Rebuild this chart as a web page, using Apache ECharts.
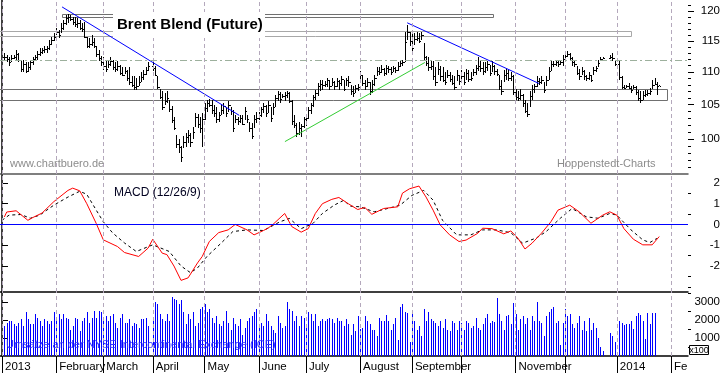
<!DOCTYPE html>
<html><head><meta charset="utf-8">
<script src="https://cdn.jsdelivr.net/npm/echarts@6/dist/echarts.min.js"></script>
<style>html,body{margin:0;padding:0;background:#fff}#c{width:723px;height:373px}</style>
</head><body><div id="c"></div>
<script>
// ---- x axis: weekday index (0 = 1 Jan 2013) ----
const monthStarts = [0,23,43,64,86,109,129,152,174,195,218,239,261,284];
const monthLabels = ['2013','February','March','April','May','June','July','August','September','','November','','2014','Fe'];
// ---- price ticks ----
const priceTicks = [100,105,110,115,120];
const priceMinorTicks = [96,97,98,99,101,102,103,104,106,107,108,109,111,112,113,114,116,117,118,119,121];
const macdTicks = [-2,-1,0,1,2];
const macdMinorTicks = [-3,-2.5,-1.5,-0.5,0.5,1.5];
const volTicks = [1000,2000,3000];
const volMinorTicks = [500,1500,2500,3500];

// ---- daily OHLC (index = weekday, null = no trading) ----
const highs = [null,
113.0,112.7,112.4,112.7,112.7,113.5,113.0,111.9,111.9,111.6,
111.6,111.9,112.4,112.7,113.3,113.9,113.9,114.1,114.1,115.1,
115.6,116.3,117.1,116.8,118.0,118.5,119.3,119.5,119.3,119.0,
119.0,118.8,118.5,118.0,118.1,115.6,115.5,116.0,115.5,114.1,
113.5,112.5,112.3,111.8,111.9,112.4,111.9,111.6,111.7,111.1,
110.8,110.8,110.3,110.8,109.4,109.3,109.0,109.3,110.0,110.3,
110.8,111.6,null,112.0,111.0,109.4,107.3,107.1,106.8,107.0,
105.7,104.8,103.2,100.6,99.9,99.0,100.4,100.9,101.2,100.8,
101.7,103.8,103.6,103.2,103.7,
105.3,105.7,105.9,105.7,105.0,104.7,103.9,105.0,105.3,104.7,
105.5,104.7,104.2,103.5,103.2,103.4,103.5,104.7,103.5,102.4,
102.3,103.4,103.9,
103.9,104.7,105.3,105.0,105.5,104.7,105.3,106.5,107.1,106.9,
106.6,106.9,107.1,106.9,105.7,103.4,102.3,102.4,102.2,103.2,
103.5,104.7,105.3,106.5,107.2,108.3,108.8,108.8,108.6,109.1,
108.8,109.1,108.6,109.1,108.8,109.4,108.8,109.1,109.4,108.0,
107.8,108.0,108.2,
110.2,109.6,108.8,109.1,108.4,108.8,109.6,110.8,110.8,111.1,
110.6,111.1,111.0,110.8,111.0,110.8,111.6,111.8,111.9,116.5,
117.6,116.5,
116.3,116.3,116.5,116.3,116.5,114.7,112.5,112.3,111.9,111.8,
110.8,111.6,111.0,110.8,110.0,110.3,110.0,109.6,109.4,110.3,
109.6,
110.3,110.0,110.5,110.3,110.0,110.5,111.1,112.3,111.9,111.6,
111.6,111.7,111.1,111.7,111.1,110.5,109.6,108.7,110.3,110.5,
110.3,110.0,109.6,
107.3,107.1,107.3,106.6,105.7,105.3,107.1,108.0,108.1,109.3,
109.0,109.3,108.4,109.3,110.8,111.8,111.8,111.9,111.8,111.9,
112.7,
113.0,113.3,113.0,112.4,111.9,110.9,110.5,110.8,110.3,109.6,
110.0,109.6,110.8,111.0,111.9,112.4,112.4,null,null,112.7,
113.0,111.9,
null,111.8,109.3,108.0,108.0,108.3,107.8,108.0,107.8,107.2,
107.1,107.0,107.2,107.2,107.5,108.7,109.0,108.4,108.0];

const lows = [null,
111.9,111.6,110.9,111.6,112.0,111.9,111.6,110.0,110.0,109.8,
110.0,110.3,111.1,111.8,111.9,112.5,112.9,113.0,113.0,113.5,
114.3,114.9,116.0,115.5,116.3,116.8,117.6,118.0,118.3,117.6,
117.3,117.1,116.8,116.5,115.5,113.9,113.9,114.1,113.9,112.4,
111.8,110.9,110.3,110.0,110.7,110.9,110.3,110.0,110.1,109.5,
109.3,109.7,108.6,108.0,107.6,107.2,107.2,107.8,108.4,108.8,
109.6,110.2,null,110.2,109.3,107.3,105.8,104.2,105.0,105.3,
103.9,102.3,101.3,98.7,98.0,96.8,98.7,98.9,99.4,98.9,
99.9,101.7,101.5,100.9,98.9,
102.7,103.9,104.6,103.6,103.2,102.3,102.4,103.4,103.6,103.2,
103.9,103.5,101.0,102.3,102.0,102.3,102.0,102.7,102.3,101.0,
99.9,101.5,102.3,
102.7,103.2,103.7,103.2,103.7,102.4,103.4,104.6,105.6,105.3,
106.0,105.6,106.0,105.3,102.0,101.5,100.2,100.6,100.3,101.5,
101.8,102.9,103.6,104.6,105.7,106.3,107.0,107.2,107.6,107.6,
107.2,107.9,107.2,107.6,107.2,107.9,107.0,107.9,107.6,106.5,
106.1,106.8,107.0,
108.6,107.9,107.2,107.6,106.4,106.8,107.9,109.3,109.6,109.8,
109.3,109.5,109.8,109.6,110.0,109.8,110.2,110.8,110.9,111.6,
115.1,114.1,
112.9,114.4,114.9,114.6,115.1,111.8,110.9,110.2,110.3,108.8,
107.9,109.6,108.6,108.4,108.0,109.0,108.4,108.0,107.2,108.6,
108.0,
108.6,108.0,108.8,108.4,108.6,109.3,109.6,110.2,110.0,109.6,
109.8,110.2,109.3,110.0,109.6,109.3,107.2,106.5,108.4,108.8,
108.6,108.6,106.4,
105.7,105.5,105.7,104.7,103.7,103.2,104.7,105.7,106.8,107.6,
108.0,108.1,106.8,107.9,108.8,110.2,110.8,110.9,110.8,111.1,
110.9,
111.8,112.4,111.8,110.9,110.8,109.5,108.8,109.6,108.8,108.6,
108.8,108.4,109.6,110.0,110.8,111.8,112.0,null,null,112.0,
111.8,110.9,
null,108.8,107.3,107.3,107.5,107.3,106.8,107.3,106.5,105.6,
105.3,105.7,106.2,106.3,106.5,107.3,108.0,106.5,107.8];

const closes = [null,
112.4,112.0,111.5,112.2,112.3,112.8,111.9,110.4,111.2,110.2,
110.8,111.5,112.0,112.4,112.9,113.2,113.5,113.6,113.8,114.5,
115.2,115.6,116.4,116.0,117.2,118.0,118.8,119.0,118.6,118.2,
117.8,118.0,117.2,116.9,115.7,114.2,114.5,114.8,114.1,112.8,
112.2,111.6,111.0,110.5,111.2,111.7,110.8,110.5,111.0,109.8,
109.6,110.1,109.0,108.5,108.0,107.6,107.9,108.5,109.2,109.7,
110.3,111.0,null,110.6,109.6,107.6,106.2,104.6,105.5,106.0,
104.3,102.7,101.6,99.2,98.8,97.4,99.5,100.2,100.6,99.6,
101.0,103.1,102.2,101.5,102.8,
104.5,105.2,105.0,104.2,103.8,102.8,103.5,104.2,104.8,103.7,
105.0,104.0,101.6,102.9,102.5,103.0,102.2,104.1,102.8,101.5,
100.4,102.8,103.0,
103.4,104.3,104.8,103.7,105.0,103.0,104.7,106.0,106.6,105.9,
106.3,106.4,106.8,105.6,102.5,102.0,100.8,101.6,101.8,102.8,
103.0,104.2,105.0,106.1,106.8,107.8,108.2,108.0,108.2,108.7,
107.8,108.5,107.9,108.6,108.3,108.9,107.4,108.7,108.5,107.0,
106.8,107.5,107.6,
109.5,108.3,107.8,108.4,107.0,108.1,109.0,110.2,110.0,110.5,
109.8,110.6,110.4,110.0,110.6,110.3,111.0,111.4,111.6,114.8,
116.4,115.0,
113.8,115.3,115.5,115.0,115.9,112.3,111.4,110.8,111.0,109.3,
108.5,110.5,109.3,108.8,108.5,109.6,108.9,108.3,107.7,109.6,
108.6,
109.3,108.5,109.8,108.9,109.0,110.0,110.6,111.0,110.6,110.2,
110.8,111.2,109.8,111.0,110.2,109.7,107.8,107.0,109.5,109.8,
109.0,109.4,106.9,
106.2,106.0,106.5,105.2,104.1,103.6,106.3,107.4,107.8,108.6,
108.4,108.8,107.2,108.7,110.2,111.3,111.3,111.5,111.2,111.6,
112.0,
112.5,112.9,112.2,111.5,111.2,109.8,109.3,110.2,109.4,109.0,
109.6,108.8,110.3,110.6,111.4,112.0,112.2,null,null,112.4,
112.2,111.2,
null,109.2,107.6,107.5,107.8,107.5,107.2,107.6,106.9,106.0,
105.7,106.4,106.6,106.8,107.0,108.0,108.2,107.8,107.9];

// ---- volume (x100 contracts) ----
const volumes = [null,
1660,1850,1950,1950,1760,1660,1850,2040,1660,2430,
2040,1760,1760,2330,2140,1950,1660,2040,1950,1760,
1950,2430,1950,2330,2040,2330,2140,2040,1470,1660,
2140,2040,1380,1950,2140,2430,1850,2140,2520,2140,
2520,2430,2040,2240,1950,2240,2330,1850,1570,2140,
2330,1850,1850,2040,1660,1850,1760,1570,2040,2040,
2140,1660,null,2040,3000,2900,2330,2040,1950,2330,
1950,3290,3190,3100,2900,3100,2430,1760,2330,2040,
2430,1660,1850,2620,2710,
2900,2430,2620,2140,1850,2240,1760,1660,1950,2520,
1850,1470,2140,1760,1660,2040,1180,1570,1950,2140,
2240,2430,2620,
1570,1850,1660,2330,1950,1660,1470,1280,2240,1850,
1570,1660,3000,2620,2520,1950,2240,1660,2240,2140,
1760,2430,2330,1950,2330,1660,1950,2040,1950,2040,
2140,2040,1850,2140,1950,1950,1660,2040,1760,1180,
1760,1380,2240,
1510,1570,2240,1950,1760,1470,1470,1090,2140,1950,
1950,2270,1950,1470,1760,2140,900,2710,2900,2430,
2390,800,
2390,1950,1470,1660,1090,2620,1950,2460,2080,1950,
1850,1660,1950,1570,2040,1470,1380,1950,1850,1470,
1950,
1850,1470,1950,1850,1570,1660,2140,1570,1470,1760,
2140,2330,1850,1950,1900,3230,2330,1950,1470,2240,
2270,1760,2960,
2330,1470,2040,2240,1760,2140,1470,2240,1950,3000,
1950,1850,1090,2240,2430,2620,2710,1850,1950,610,
1850,
2620,2240,2330,1760,1570,1850,2240,1470,1950,1380,
2140,1470,1850,1570,990,480,300,null,null,1280,
1090,800,
null,1950,1850,1700,1760,1760,1950,1510,2240,2390,
2270,1950,940,2390,1760,2390,2390,null,null];

// ---- MACD (12/26/9): [weekday, value] ----
const macdLine = [[1,0.36],[2,0.6],[6,0.66],[11,0.2],[13,0.33],[17,0.55],[22,1.1],[28,1.64],[30,1.75],[33,1.62],[36,1.0],[40,0.05],[43,-0.74],[49,-1.06],[52,-1.35],[58,-1.54],[62,-1.14],[64,-0.71],[68,-1.38],[70,-1.45],[73,-2.0],[76,-2.69],[79,-2.57],[83,-1.85],[85,-1.54],[88,-0.82],[92,-0.39],[96,-0.26],[99,0.0],[104,-0.26],[107,-0.5],[111,-0.29],[113,-0.17],[115,0.0],[120,0.53],[123,-0.1],[127,-0.37],[130,-0.2],[133,0.53],[136,1.0],[140,1.21],[143,1.3],[147,1.0],[151,0.72],[154,0.82],[157,0.49],[162,0.77],[168,0.85],[170,1.51],[173,1.72],[177,1.85],[180,1.32],[183,0.69],[186,-0.02],[190,-0.5],[194,-0.82],[197,-0.75],[202,-0.42],[204,-0.18],[208,-0.2],[213,-0.45],[216,-0.31],[219,-0.66],[222,-1.18],[225,-0.9],[229,-0.42],[233,0.13],[236,0.69],[241,0.93],[245,0.61],[250,0.06],[255,0.45],[258,0.61],[261,0.45],[264,-0.2],[268,-0.71],[272,-0.98],[276,-0.98],[279,-0.58]];
const signalLine = [[0,0.2],[3,0.45],[8,0.48],[12,0.3],[16,0.45],[22,0.93],[28,1.32],[33,1.6],[36,1.45],[40,0.69],[43,0.13],[47,-0.41],[52,-0.89],[57,-1.3],[64,-0.98],[71,-1.3],[76,-2.0],[80,-2.32],[83,-2.09],[87,-1.54],[93,-0.9],[98,-0.34],[104,-0.26],[111,-0.29],[118,0.13],[122,0.29],[127,-0.2],[132,0.05],[136,0.53],[141,0.93],[145,1.16],[148,0.88],[152,0.85],[158,0.61],[163,0.75],[169,0.93],[174,1.4],[179,1.64],[183,1.17],[187,0.2],[193,-0.5],[199,-0.5],[204,-0.26],[210,-0.26],[216,-0.4],[221,-0.9],[227,-0.64],[231,-0.34],[237,0.3],[242,0.77],[248,0.37],[253,0.3],[258,0.53],[261,0.45],[267,-0.26],[272,-0.74],[275,-0.87],[278,-0.67]];

// ---- drawn analysis: trend lines, zones, level ----
const trendDown1 = [[25.5,120.7],[100.7,103.4]];
const trendDown2 = [[172,118.0],[228,108.2]];
const trendUp = [[120.1,99.6],[179.5,111.5]];
const zones = [[25.5,208.4,119.5,119.0],[-2,267.2,116.6,115.8],[-2,282.3,107.3,105.7]];
const zoneColors = ['#707070','#a8a8a8','#707070'];
const levelLine = 111.9;

// ---- build ----
const X_MIN = -0.85, X_MAX = 291.2;
const ohlc = [];
let prevClose = null;
for (let i = 0; i < highs.length; i++) {
  if (highs[i] == null) continue;
  const o = prevClose == null ? closes[i] : prevClose;
  ohlc.push([i, o, highs[i], lows[i], closes[i]]);
  prevClose = closes[i];
}
const volData = [];
volumes.forEach((v, i) => { if (v != null) volData.push([i, v]); });

const FONT = '"Liberation Sans", Arial, sans-serif';
const gridCol = '#b4a8bc';
const vLines = monthStarts.map(v => ({ xAxis: v }));
function gridMark() {
  return { silent: true, symbol: 'none', label: { show: false },
    lineStyle: { color: gridCol, type: [4, 3], width: 1 }, data: vLines };
}
const chart = echarts.init(document.getElementById('c'), null, { renderer: 'canvas' });
const lnMin = Math.log(95.1), lnMax = Math.log(121.9);
function xAx(gi, o) {
  return Object.assign({ type: 'value', gridIndex: gi, min: X_MIN, max: X_MAX,
    axisLine: { show: false }, axisTick: { show: false }, axisLabel: { show: false }, splitLine: { show: false } }, o || {});
}
const labelStyle = { color: '#000', fontFamily: FONT, fontSize: 11.5 };
function yAx(gi, o) {
  return Object.assign({ gridIndex: gi, position: 'right', splitLine: { show: false },
    axisLine: { show: false }, axisTick: { show: false }, axisLabel: { show: false } }, o);
}
const plain = v => String(Math.round(v * 100) / 100);
const option = {
  animation: false,
  backgroundColor: '#fff',
  grid: [
    { left: 0, width: 688, top: 0, height: 174 },
    { left: 0, width: 688, top: 174, height: 118 },
    { left: 0, width: 688, top: 292, height: 64 }
  ],
  xAxis: [
    xAx(0, { axisLine: { show: true, onZero: false, lineStyle: { color: '#555', width: 1.5 } } }),
    xAx(1, { axisLine: { show: true, onZero: false, lineStyle: { color: '#000', width: 1.5 } } }),
    xAx(2, { axisLine: { show: true, onZero: false, lineStyle: { color: '#000', width: 1.5 } },
      axisTick: { show: true, customValues: monthStarts, length: 17, lineStyle: { color: '#000' } },
      axisLabel: Object.assign({ show: true, customValues: monthStarts, align: 'left', verticalAlign: 'middle', margin: 11,
        padding: [0, 0, 0, 3], formatter: v => monthLabels[monthStarts.indexOf(v)] || '' }, labelStyle) })
  ],
  yAxis: [
    yAx(0, { type: 'log', logBase: 10, min: 95.1, max: 121.9, axisLine: { show: true, lineStyle: { color: '#000', width: 1.5 } } }),
    yAx(0, { type: 'value', min: lnMin, max: lnMax,
      axisTick: { show: true, customValues: priceTicks.map(Math.log), length: 6, lineStyle: { color: '#000' } },
      axisLabel: Object.assign({ show: true, customValues: priceTicks.map(Math.log), align: 'right', margin: 32,
        formatter: v => String(Math.round(Math.exp(v))) }, labelStyle) }),
    yAx(0, { type: 'value', min: lnMin, max: lnMax,
      axisTick: { show: true, customValues: priceMinorTicks.map(Math.log), length: 3, lineStyle: { color: '#000' } } }),
    yAx(1, { type: 'value', min: -3.25, max: 2.43, axisLine: { show: true, lineStyle: { color: '#000', width: 1.5 } },
      axisTick: { show: true, customValues: macdTicks, length: 6, lineStyle: { color: '#000' } },
      axisLabel: Object.assign({ show: true, customValues: macdTicks, align: 'right', margin: 32, formatter: plain }, labelStyle) }),
    yAx(1, { type: 'value', min: -3.25, max: 2.43,
      axisTick: { show: true, customValues: macdMinorTicks, length: 3, lineStyle: { color: '#000' } } }),
    yAx(2, { type: 'value', min: 0, max: 3565, axisLine: { show: true, lineStyle: { color: '#000', width: 1.5 } },
      axisTick: { show: true, customValues: volTicks, length: 6, lineStyle: { color: '#000' } },
      axisLabel: Object.assign({ show: true, customValues: volTicks, align: 'right', margin: 32, formatter: plain }, labelStyle) }),
    yAx(2, { type: 'value', min: 0, max: 3565,
      axisTick: { show: true, customValues: volMinorTicks, length: 3, lineStyle: { color: '#000' } } })
  ],
  series: [
    { type: 'line', xAxisIndex: 0, yAxisIndex: 0, data: [[0, 110]], symbol: 'none', lineStyle: { opacity: 0 }, z: 0, silent: true,
      markLine: gridMark() },
    { type: 'line', xAxisIndex: 0, yAxisIndex: 0, data: [[0, 110]], symbol: 'none', lineStyle: { opacity: 0 }, z: 0, silent: true,
      markLine: { silent: true, symbol: 'none', label: { show: false },
        lineStyle: { color: '#9db09d', type: [7, 3, 2, 3], width: 1 }, data: [{ yAxis: levelLine }] } },
    { type: 'custom', xAxisIndex: 0, yAxisIndex: 0, z: 1, silent: true, data: zones,
      renderItem: (params, api) => {
        const a = api.coord([api.value(0), api.value(2)]);
        const b = api.coord([api.value(1), api.value(3)]);
        return { type: 'rect', shape: { x: Math.round(a[0]) + 0.5, y: Math.round(a[1]) + 0.5,
          width: Math.round(b[0] - a[0]), height: Math.round(b[1] - a[1]) },
          style: { fill: 'none', stroke: zoneColors[params.dataIndex], lineWidth: 1 } };
      } },
    { type: 'custom', xAxisIndex: 0, yAxisIndex: 0, z: 3, silent: true, data: ohlc,
      renderItem: (params, api) => {
        const x = api.value(0);
        const pO = api.coord([x, api.value(1)]);
        const pH = api.coord([x, api.value(2)]);
        const pL = api.coord([x, api.value(3)]);
        const pC = api.coord([x, api.value(4)]);
        const cx = Math.round(pH[0]);
        const yh = Math.round(pH[1]), yl = Math.round(pL[1]);
        return { type: 'group', children: [
          { type: 'rect', shape: { x: cx, y: yh, width: 1, height: Math.max(1, yl - yh) }, style: { fill: '#000' } },
          { type: 'rect', shape: { x: cx - 1, y: Math.round(pO[1]), width: 1, height: 1 }, style: { fill: '#000' } },
          { type: 'rect', shape: { x: cx + 1, y: Math.round(pC[1]), width: 1, height: 1 }, style: { fill: '#000' } }
        ] };
      } },
    { type: 'line', xAxisIndex: 0, yAxisIndex: 0, data: trendDown1, symbol: 'none', z: 4, silent: true, lineStyle: { color: '#0000ff', width: 1 } },
    { type: 'line', xAxisIndex: 0, yAxisIndex: 0, data: trendDown2, symbol: 'none', z: 4, silent: true, lineStyle: { color: '#0000ff', width: 1 } },
    { type: 'line', xAxisIndex: 0, yAxisIndex: 0, data: trendUp, symbol: 'none', z: 4, silent: true, lineStyle: { color: '#33cc33', width: 1 } },
    { type: 'line', xAxisIndex: 1, yAxisIndex: 3, data: [[0, 0]], symbol: 'none', lineStyle: { opacity: 0 }, z: 0, silent: true,
      markLine: gridMark() },
    { type: 'line', xAxisIndex: 1, yAxisIndex: 3, data: signalLine, symbol: 'none', z: 3, silent: true,
      lineStyle: { color: '#000', width: 1, type: [3, 3] } },
    { type: 'line', xAxisIndex: 1, yAxisIndex: 3, data: macdLine, symbol: 'none', z: 4, silent: true,
      lineStyle: { color: '#ff0000', width: 1 },
      markLine: { silent: true, symbol: 'none', label: { show: false }, lineStyle: { color: '#0000ff', width: 1.2, type: 'solid' }, data: [{ yAxis: 0 }] } },
    { type: 'line', xAxisIndex: 2, yAxisIndex: 5, data: [[0, 0]], symbol: 'none', lineStyle: { opacity: 0 }, z: 0, silent: true,
      markLine: gridMark() },
    { type: 'custom', xAxisIndex: 2, yAxisIndex: 5, z: 3, silent: true, data: volData,
      renderItem: (params, api) => {
        const p = api.coord([api.value(0), api.value(1)]);
        const p0 = api.coord([api.value(0), 0]);
        const y = Math.round(p[1]);
        return { type: 'rect', shape: { x: Math.round(p[0]), y: y, width: 1, height: Math.round(p0[1]) - y }, style: { fill: '#0000ff' } };
      } }
  ],
  graphic: [
    { type: 'rect', z: 100, shape: { x: 113, y: 12, width: 152, height: 26 }, style: { fill: '#fff' } },
    { type: 'text', z: 101, style: { x: 117, y: 25, text: 'Brent Blend (Future)', font: 'bold 15px ' + FONT, fill: '#000', verticalAlign: 'middle' } },
    { type: 'text', z: 101, style: { x: 10, y: 164, text: 'www.chartbuero.de', font: '11px ' + FONT, fill: '#8c8c8c', verticalAlign: 'middle' } },
    { type: 'text', z: 101, style: { x: 557, y: 163.5, text: 'Hoppenstedt-Charts', font: '11px ' + FONT, fill: '#8c8c8c', verticalAlign: 'middle' } },
    { type: 'text', z: 101, style: { x: 114, y: 193, text: 'MACD (12/26/9)', font: '12px ' + FONT, fill: '#000020', verticalAlign: 'middle' } },
    { type: 'text', z: 101, style: { x: 6, y: 345, text: 'Umsätze an der NYSE Intercontinental Exchange (ICE)', font: '11px ' + FONT, fill: '#3030ff', verticalAlign: 'middle' } },
    { type: 'rect', z: 100, shape: { x: 689.5, y: 345.5, width: 19, height: 9 }, style: { fill: '#fff', stroke: '#000', lineWidth: 1 } },
    { type: 'text', z: 101, style: { x: 699, y: 350.5, text: 'x100', font: '9px ' + FONT, fill: '#000', align: 'center', verticalAlign: 'middle' } }
  ]
};
chart.setOption(option);
</script></body></html>
